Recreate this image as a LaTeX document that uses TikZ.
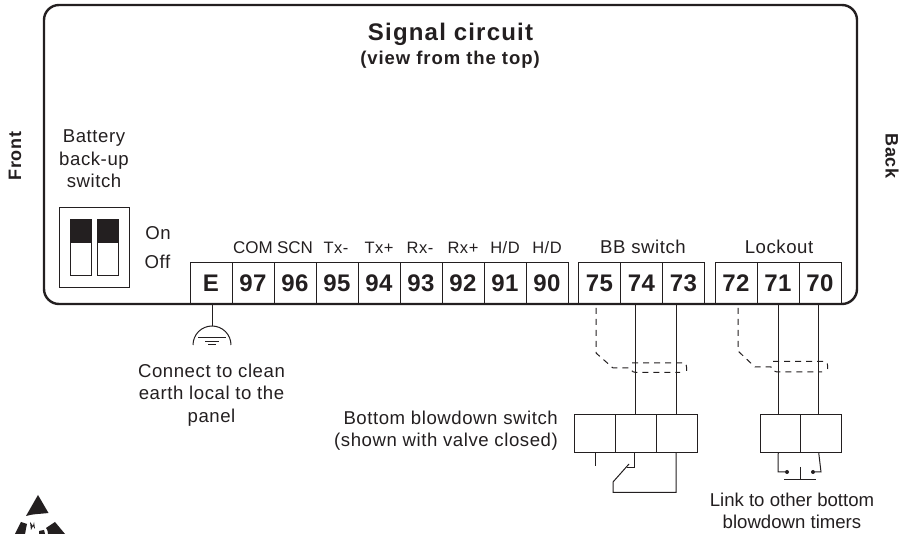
\documentclass[tikz,border=0pt]{standalone}
\usepackage{fontspec}
\setmainfont{Liberation Sans}
\newfontfamily\spc[LetterSpace=3]{Liberation Sans}
\newfontfamily\spcb[LetterSpace=5]{Liberation Sans Bold}
\newfontfamily\spcd[LetterSpace=2]{Liberation Sans Bold}
\definecolor{ink}{HTML}{231F20}
\tikzset{
 ln/.style={draw=ink,line width=1pt},
 term/.style={draw=ink,line width=1pt,minimum width=42pt,minimum height=41pt,inner sep=0pt,outer sep=0pt,text=ink,font=\fontsize{24}{24}\spcd},
 lbl/.style={text=ink,inner sep=0pt,font=\fontsize{18.6}{22.6}\spc,align=center},
 sbox/.style={draw=ink,line width=1pt,minimum width=41pt,minimum height=38pt,inner sep=0pt,outer sep=0pt},
 dsh/.style={draw=ink,line width=1pt,dash pattern=on 6pt off 5pt},
 dotn/.style={circle,fill=ink,inner sep=0pt,minimum size=4pt},
 slot/.style={draw=ink,line width=1pt,minimum width=21pt,minimum height=56pt,inner sep=0pt}
}
\begin{document}
\begin{tikzpicture}[x=1pt,y=-1pt]
\useasboundingbox (0,0) rectangle (903,534);
% main outline
\draw[draw=ink,line width=2.4pt,rounded corners=15pt] (44,5) rectangle (857,304);
% titles
\node[text=ink,inner sep=0pt,font=\fontsize{24}{24}\spcb] (title) at (450.5,34.5) {Signal circuit};
\node[text=ink,inner sep=0pt,font=\fontsize{18.5}{20}\spcb] (sub) at (450,59.5) {(view from the top)};
\node[text=ink,inner sep=0pt,rotate=90,font=\fontsize{18}{18}\spcb] (front) at (15,156) {Front};
\node[text=ink,inner sep=0pt,rotate=-90,font=\fontsize{18}{18}\spcb] (back) at (892,156) {Back};
\node[lbl] (batt) at (94,159) {Battery\\back-up\\switch};
% dip switch
\node[draw=ink,line width=1pt,minimum width=70pt,minimum height=80pt,inner sep=0pt] (dip) at (94,248) {};
\node[slot] (s1) at (80.5,248) {};
\node[slot] (s2) at (107.5,248) {};
\fill[ink] (s1.north west) rectangle (s1.east |- 0,243);
\fill[ink] (s2.north west) rectangle (s2.east |- 0,243);
\node[lbl] (on) at (158,233) {On};
\node[lbl] (off) at (157.5,262) {Off};
% terminals
\node[term] (tE) at (211,283.5) {E};
\foreach \n/\x in {97/253,96/295,95/337,94/379,93/421,92/463,91/505,90/547,75/599.5,74/641.5,73/683.5,72/736,71/778,70/820}
  \node[term] (t\n) at (\x,283.5) {\n};
\node[lbl,font=\fontsize{17}{20}\selectfont] (lcom) at (253,248) {COM};
\node[lbl,font=\fontsize{17}{20}\selectfont] (lscn) at (295,248) {SCN};
\node[lbl,font=\fontsize{16.5}{20}\spc] (ltxm) at (336,248) {Tx-};
\node[lbl,font=\fontsize{16.5}{20}\spc] (ltxp) at (379,248) {Tx+};
\node[lbl,font=\fontsize{16.5}{20}\spc] (lrxm) at (420,248) {Rx-};
\node[lbl,font=\fontsize{16.5}{20}\spc] (lrxp) at (463,248) {Rx+};
\node[lbl,font=\fontsize{16.5}{20}\spc] (lhd1) at (505,248) {H/D};
\node[lbl,font=\fontsize{16.5}{20}\spc] (lhd2) at (547,248) {H/D};
\node[lbl] (lbb) at (643,247) {BB switch};
\node[lbl] (llock) at (779,247) {Lockout};
% ground
\coordinate (gnd) at (212,326);
\draw[ln] (tE.south -| gnd) -- (gnd);
\draw[ln] (193,345) arc[start angle=180,end angle=360,radius=19];
\draw[ln] (198,338) -- (226,338);
\draw[ln] (205,341.5) -- (219,341.5);
\draw[ln] (208,344.5) -- (216,344.5);
\node[lbl] (earth) at (211.5,395) {Connect to clean\\earth local to the\\panel};
% lower boxes
\node[sbox] (b1) at (594.5,434) {};
\node[sbox] (b2) at (635.5,434) {};
\node[sbox] (b3) at (676.5,434) {};
\node[sbox,minimum width=40.5pt] (l1) at (780.25,434) {};
\node[sbox,minimum width=40.5pt] (l2) at (820.75,434) {};
% wires
\draw[ln] (b2.north |- t74.south) -- (b2.north);
\draw[ln] (b3.north |- t73.south) -- (b3.north);
\draw[ln] ([xshift=-2pt]l1.north |- t71.south) -- ([xshift=-2pt]l1.north);
\draw[ln] ([xshift=-2pt]l2.north |- t70.south) -- ([xshift=-2pt]l2.north);
% screens
\draw[dsh] (596,308) -- (596,353) -- (613,368) -- (630,368) .. controls (632,372) and (634,372.5) .. (636,372.5) -- (680,372.5);
\draw[dsh] (632,363) -- (684,363) .. controls (686,363) and (687,366) .. (686.5,371);
\draw[dsh] (738,308) -- (738,351) -- (755,367) -- (771,367) .. controls (773,371) and (775,372) .. (777,372) -- (822,372);
\draw[dsh] (773,361.5) -- (825,361.5) .. controls (827,361.5) and (828,364) .. (827.5,369);
% switch wiring
\coordinate (sw1) at (595,466);
\coordinate (c1) at (634,468);
\coordinate (c2) at (676,453);
\draw[ln] (b1.south -| sw1) -- (sw1);
\draw[ln] (b2.south -| c1) -- (c1) -- (627,468);
\draw[ln] (629,464) -- (613,482) -- (613,492.5) -- (676,492.5) -- (c2);
\node[lbl,anchor=east,align=right] (bbl) at (558,430.5) {Bottom blowdown switch\\(shown with valve closed)};
% link
\node[dotn] (d1) at (787,472) {};
\node[dotn] (d2) at (813,472) {};
\draw[ln] ([xshift=-2pt]l1.south) -- (778,472) -- (d1);
\draw[ln] ([xshift=-2pt]l2.south) -- (821,472) -- (d2);
\coordinate (pb) at (800,479.5);
\draw[ln] (800,467) -- (pb);
\draw[ln] (784,479.5) -- (816,479.5);
\node[lbl,font=\fontsize{18.6}{22.6}\selectfont] (lnk) at (792,511) {Link to other bottom\\blowdown timers};
% ESD symbol
\fill[ink] (38,495) -- (48.5,513) .. controls (40,514) and (32,514) .. (26,516) -- cycle;
\fill[ink] (21,522) -- (27,524) .. controls (26,527) and (26,530) .. (25,534) -- (15,534) -- cycle;
\fill[ink] (55,522) -- (65,534) -- (48,534) .. controls (48,531) and (47,529) .. (46,528) -- cycle;
\fill[ink] (30,522) -- (31,530) -- (33,526) -- (35,529) -- (34,522) -- (33,526) -- cycle;
\fill[ink] (39,531) -- (44,530) -- (45,534) -- (39,534) -- cycle;
\end{tikzpicture}
\end{document}
